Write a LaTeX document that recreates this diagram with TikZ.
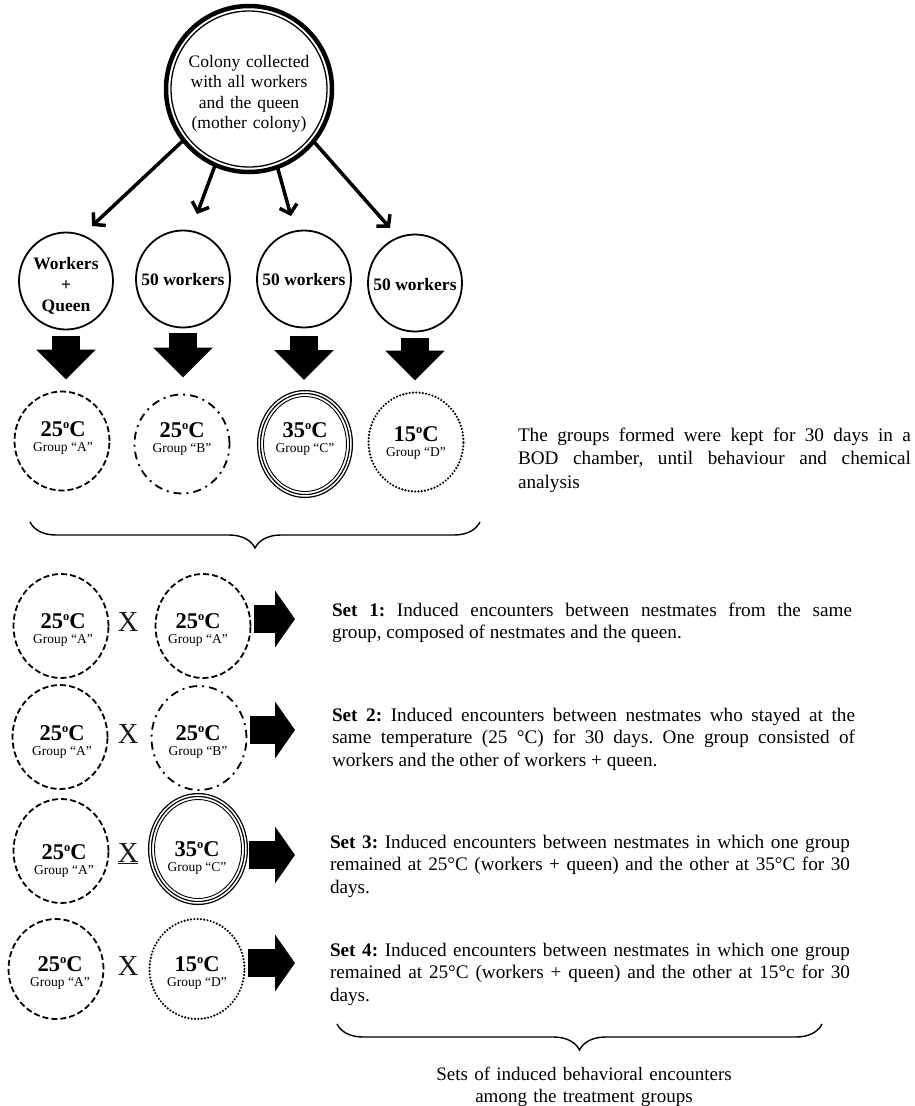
\documentclass[tikz,border=0pt]{standalone}
\usepackage{fontspec}
\setmainfont{Liberation Serif}
\usetikzlibrary{shapes.geometric,arrows.meta,decorations.pathreplacing,calc}
\newcommand{\degs}{\raisebox{8pt}{\fontsize{12.5}{12.5}\selectfont o}}
\newcommand{\grpc}[9]{%
  \node[#2] (#1) at (#3,#4) {};
  \node[templbl] (#1t) at (#7,#8) {#5\degs C};
  \node[grplbl] (#1g) at (#7,#9) {Group “#6”};
}
\begin{document}
\frenchspacing
\begin{tikzpicture}[x=1pt,y=-1pt,
  every node/.style={inner sep=0pt, outer sep=0pt},
  topcirc/.style={circle, draw, line width=4.5pt, minimum size=166pt},
  wcirc/.style={ellipse, draw, line width=1.8pt, minimum width=94pt, minimum height=97pt},
  gcirc/.style={ellipse, line width=1.8pt, minimum width=95pt, minimum height=99pt},
  scirc/.style={gcirc, minimum height=104pt},
  dashA/.style={draw, dash pattern=on 6pt off 3pt},
  dashB/.style={draw, dash pattern=on 8pt off 5pt on 2pt off 5pt},
  dotD/.style={draw, line width=2.4pt, dash pattern=on 0pt off 3.3pt, line cap=round},
  triC/.style={draw, line width=1.3pt, double distance=1.5pt},
  templbl/.style={font=\fontsize{22.5}{22.5}\selectfont\bfseries, anchor=base},
  grplbl/.style={font=\fontsize{13.5}{14}\selectfont, anchor=base},
  toptxt/.style={font=\fontsize{17.5}{20.5}\selectfont, text width=140pt, align=center, anchor=base},
  wtxt/.style={font=\fontsize{17.5}{21}\selectfont\bfseries, anchor=base},
  xlbl/.style={font=\fontsize{29}{29}\selectfont, text=black!90, anchor=base},
  settxt/.style={font=\fontsize{19.2}{22.7}\selectfont, text width=520pt, align=justify, anchor=base west},
  toparr/.style={line width=3.5pt, -{Straight Barb[length=8pt,width=18pt]}},
  blockdown/.style={line width=28pt, -{Triangle[length=30pt,width=58pt]}},
  blockright/.style={line width=28pt, -{Triangle[length=20pt,width=56pt]}},
  bracestyle/.style={decorate, decoration={brace, mirror, amplitude=26pt}, line width=1.4pt}
]
\useasboundingbox (0,0) rectangle (914,1106);

% mother colony
\node[topcirc] (top) at (249,89) {};
\draw[line width=1.3pt] (top.center) circle[radius=78pt];
\node[toptxt] (toptext) at (249,67) {Colony collected\\with all workers\\and the queen\\(mother colony)};

% second row
\node[wcirc] (w1) at (66,281) {};
\node[wtxt, text width=90pt, align=center] (w1t) at (66,269) {Workers\\+\\Queen};
\node[wcirc] (w2) at (183,279) {};
\node[wtxt] (w2t) at (183,285) {50 workers};
\node[wcirc] (w3) at (304,279) {};
\node[wtxt] (w3t) at (304,285) {50 workers};
\node[wcirc] (w4) at (415,283) {};
\node[wtxt] (w4t) at (415,290) {50 workers};

% arrows from mother colony
\coordinate (t1) at (92,226);
\coordinate (t2) at (197,214);
\coordinate (t3) at (291,216);
\coordinate (t4) at (390,228);
\draw[toparr] (top.218) -- (t1);
\draw[toparr] (top.246) -- (t2);
\draw[toparr] (top.290) -- (t3);
\draw[toparr] (top.321) -- (t4);

% group row
\grpc{gA}{gcirc,dashA}{62}{441}{25}{A}{63}{436}{451}
\grpc{gB}{gcirc,dashB}{182}{444}{25}{B}{182}{437}{452}
\grpc{gC}{gcirc,triC,minimum width=92pt,minimum height=104pt}{305}{444}{35}{C}{305}{437}{452}
\draw[line width=0.9pt] (gC.center) ellipse[x radius=41.5pt, y radius=47.5pt];
\grpc{gD}{gcirc,dotD}{416}{442}{15}{D}{416}{441}{456}

% block arrows down
\draw[blockdown, shorten <=6pt, shorten >=12pt] (w1.south) -- (w1.south |- gA.north);
\draw[blockdown, shorten <=5.5pt, shorten >=17pt] (w2.south) -- (w2.south |- gB.north);
\draw[blockdown, shorten <=8pt, shorten >=12pt] (w3.south) -- (w3.south |- gC.north);
\draw[blockdown, shorten <=6.5pt, shorten >=12pt] (w4.south) -- (w4.south |- gD.north);

% right text
\node[settxt, text width=393pt, font=\fontsize{19.2}{23.5}\selectfont] (keep) at (518,441)
  {The groups formed were kept for 30 days in a\linebreak BOD chamber, until behaviour and chemical\linebreak analysis};

% top brace
\coordinate (b1l) at (30,522);
\coordinate (b1r) at (480,522);
\draw[bracestyle] (b1l) -- (b1r);

% set rows
\grpc{L1}{scirc,dashA}{61}{626}{25}{A}{63}{628}{643}
\node[xlbl] (x1) at (128,631) {X};
\grpc{R1}{scirc,dashA}{203}{626}{25}{A}{198}{628}{643}

\grpc{L2}{scirc,dashA}{60}{737}{25}{A}{62}{740}{755}
\node[xlbl] (x2) at (128,743) {X};
\grpc{R2}{scirc,dashB}{199}{738}{25}{B}{198}{740}{755}

\grpc{L3}{scirc,dashA}{61}{851}{25}{A}{64}{859}{874}
\node[xlbl] (x3) at (128,862) {\underline{X}};
\grpc{R3}{scirc,triC,minimum width=96pt,minimum height=108pt}{198}{849}{35}{C}{197}{856}{871}
\draw[line width=0.9pt] (R3.center) ellipse[x radius=43.5pt, y radius=49.5pt];

\grpc{L4}{gcirc,dashA,minimum height=100pt}{56}{969}{25}{A}{60}{971}{986}
\node[xlbl] (x4) at (128,975) {X};
\grpc{R4}{gcirc,dotD,minimum height=100pt}{197}{969}{15}{D}{197}{971}{986}

% set texts
\node[settxt] (s1) at (332,616)
  {\textbf{Set 1:} Induced encounters between nestmates from the same\linebreak group, composed of nestmates and the queen.};
\node[settxt, text width=523pt] (s2) at (332,721)
  {\textbf{Set 2:} Induced encounters between nestmates who stayed at the\linebreak same temperature (25 °C) for 30 days. One group consisted of\linebreak workers and the other of workers + queen.};
\node[settxt] (s3) at (330,848)
  {\textbf{Set 3:} Induced encounters between nestmates in which one group\linebreak remained at 25°C (workers + queen) and the other at 35°C for 30\linebreak days.};
\node[settxt] (s4) at (330,956)
  {\textbf{Set 4:} Induced encounters between nestmates in which one group\linebreak remained at 25°C (workers + queen) and the other at 15°c for 30\linebreak days.};

% block arrows right
\path ([yshift=7pt]R1.east) coordinate (a1);
\path ([yshift=8pt]R2.east) coordinate (a2);
\path ([yshift=-6pt]R3.east) coordinate (a3);
\path ([yshift=6pt]R4.east) coordinate (a4);
\draw[blockright, shorten <=3.5pt, shorten >=37pt] (a1) -- (a1 -| s1.west);
\draw[blockright, shorten <=3.5pt, shorten >=37pt] (a2) -- (a2 -| s2.west);
\draw[blockright, shorten <=3pt, shorten >=35pt] (a3) -- (a3 -| s3.west);
\draw[blockright, shorten <=3pt, shorten >=35pt] (a4) -- (a4 -| s4.west);

% bottom brace and caption
\coordinate (b2l) at (337,1024);
\coordinate (b2r) at (822,1024);
\draw[bracestyle] (b2l) -- (b2r);
\node[font=\fontsize{19}{22}\selectfont, text width=320pt, align=center, anchor=base] (cap) at (584,1080)
  {Sets of induced behavioral encounters\\among the treatment groups};
\end{tikzpicture}
\end{document}
